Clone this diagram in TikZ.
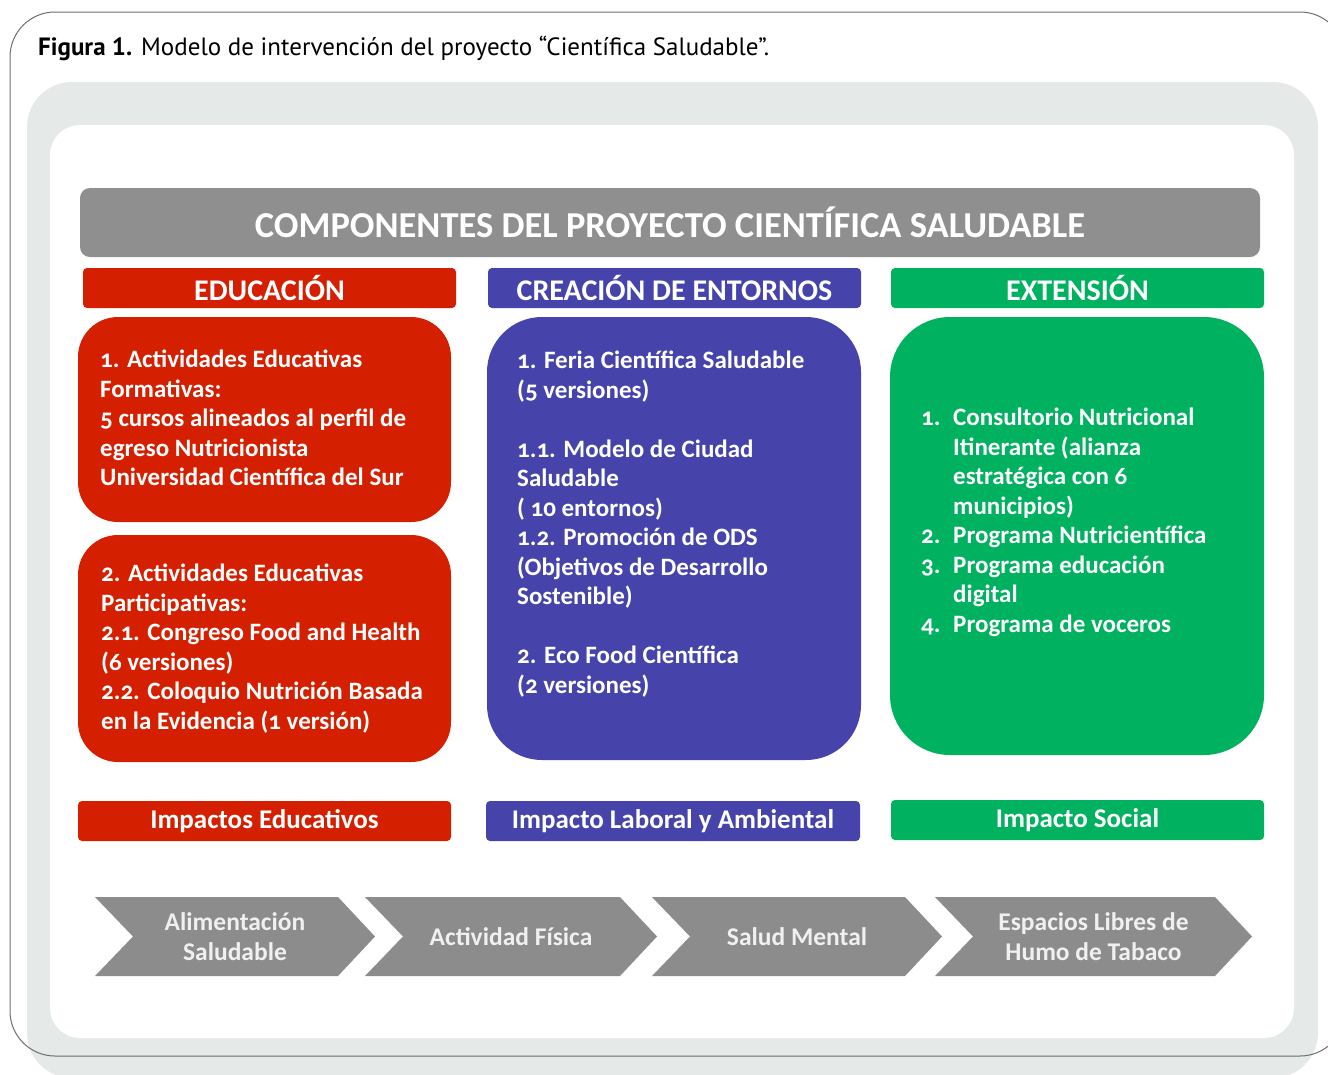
\documentclass[tikz,border=0pt]{standalone}
\usepackage{fontspec}
\setmainfont{PT Sans}
\newfontfamily\boxfont{Carlito}[Numbers=OldStyle]
\definecolor{edured}{HTML}{D42000}
\definecolor{entblue}{HTML}{4644AA}
\definecolor{extgreen}{HTML}{00B160}
\definecolor{bargray}{HTML}{8F8F8F}
\definecolor{chevgray}{HTML}{8C8C8C}
\definecolor{panelgray}{HTML}{E5E9E8}
\definecolor{framegray}{HTML}{6E6E6E}
\begin{document}
\begin{tikzpicture}[x=1pt, y=-1pt,
    bar/.style={rounded corners=4, minimum height=40, inner sep=0, text=white,
      font=\boxfont\bfseries\fontsize{30}{30}\selectfont},
    impact/.style={bar, font=\boxfont\bfseries\fontsize{27}{27}\selectfont},
    body/.style={anchor=north west, inner sep=0, align=left, text=white,
      font=\boxfont\bfseries\fontsize{25}{29.5}\selectfont}]
  \useasboundingbox (0,0) rectangle (1328,1074);
  % background panels
  \fill[panelgray, rounded corners=45] (27,82) rectangle (1318,1078);
  \fill[white, rounded corners=30] (50,125) rectangle (1294,1038);
  \draw[framegray, line width=1pt, rounded corners=45] (10,12) rectangle (1345,1056);
  \node[anchor=base west, inner sep=0, font=\fontsize{25}{25}\selectfont] (caption) at (38,55)
    {\textbf{Figura 1.} Modelo de intervención del proyecto “Científica Saludable”.};
  % title and column heads
  \node[bar, fill=bargray, rounded corners=10, minimum width=1180, minimum height=69,
    font=\boxfont\bfseries\fontsize{36.5}{36.5}\selectfont] (title) at (670,222.5)
    {COMPONENTES DEL PROYECTO CIENTÍFICA SALUDABLE};
  \node[bar, fill=edured, minimum width=373] (educ) at (269.5,288) {EDUCACIÓN};
  \node[bar, fill=entblue, minimum width=373] (entor) at (674.5,288) {CREACIÓN DE ENTORNOS};
  \node[bar, fill=extgreen, minimum width=373] (exten) at (1077.5,288) {EXTENSIÓN};
  % content boxes
  \fill[edured, rounded corners=40] (78,317) rectangle (451,522);
  \fill[edured, rounded corners=40] (78,535) rectangle (451,762);
  \fill[entblue, rounded corners=55] (487,317) rectangle (861,760);
  \fill[extgreen, rounded corners=60] (890,317) rectangle (1264,755);
  \node[body] (educa) at (100,350) {1. Actividades Educativas\\Formativas:\\5 cursos alineados al perfil de\\egreso Nutricionista\\Universidad Científica del Sur};
  \node[body] (educb) at (101,564) {2. Actividades Educativas\\Participativas:\\2.1. Congreso Food and Health\\(6 versiones)\\2.2. Coloquio Nutrición Basada\\en la Evidencia (1 versión)};
  \node[body] (entora) at (517,351) {1. Feria Científica Saludable\\(5 versiones)\\[29.5pt]1.1. Modelo de Ciudad\\Saludable\\( 10 entornos)\\1.2. Promoción de ODS\\(Objetivos de Desarrollo\\Sostenible)\\[29.5pt]2. Eco Food Científica\\(2 versiones)};
  \node[body] (extena) at (921,405) {\begin{tabular}{@{}p{32pt}@{}l@{}}
    1. & Consultorio Nutricional\\ & Itinerante (alianza\\ & estratégica con 6\\ & municipios)\\
    2. & Programa Nutricientífica\\
    3. & Programa educación\\ & digital\\
    4. & Programa de voceros\end{tabular}};
  % impacts
  \node[impact, fill=edured, minimum width=373] (impeduc) at (264.5,821) {Impactos Educativos};
  \node[impact, fill=entblue, minimum width=374] (impentor) at (673,821) {Impacto Laboral y Ambiental};
  \node[impact, fill=extgreen, minimum width=373] (impexten) at (1077.5,820) {Impacto Social};
  % chevrons
  \foreach \l/\r/\n/\lab in {95/338/alim/{Alimentación\\Saludable}, 365/620/activ/{Actividad Física},
      652/905/salud/{Salud Mental}, 935/1215/humo/{Espacios Libres de\\Humo de Tabaco}} {
    \fill[chevgray] (\l,897) -- (\r,897) -- (\r+37,936.5) -- (\r,976) -- (\l,976) -- (\l+38,936.5) -- cycle;
    \node[align=center, text=white!94!black, inner sep=0,
      font=\boxfont\bfseries\fontsize{25.5}{29.5}\selectfont] (\n) at ({(\l+\r+37)/2},936.5) {\lab};
  }
\end{tikzpicture}
\end{document}
